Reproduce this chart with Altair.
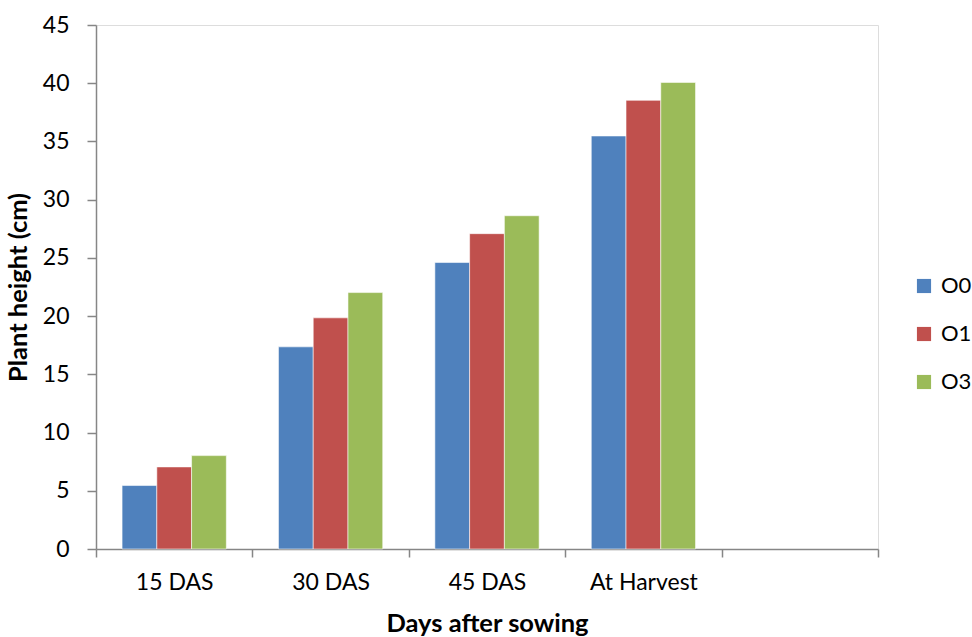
import altair as alt
import pandas as pd

categories = ["15 DAS", "30 DAS", "45 DAS", "At Harvest"]
x_domain = categories + [" "]
series = ["O0", "O1", "O3"]
o0 = [5.45, 17.36, 24.6, 35.47]
o1 = [7.05, 19.85, 27.08, 38.53]
o3 = [8.02, 22.02, 28.62, 40.07]
colors = ["#4F81BD", "#C0504D", "#9BBB59"]
y_ticks = [0, 5, 10, 15, 20, 25, 30, 35, 40, 45]

rows = []
for s, vals in zip(series, [o0, o1, o3]):
    for c, v in zip(categories, vals):
        rows.append({"Days": c, "Series": s, "Height": v})
df = pd.DataFrame(rows)

FONT = "Lato"
AXIS_COLOR = "#868686"

chart = alt.Chart(df).mark_bar(
    stroke="#ffffff", strokeWidth=0.8, strokeOpacity=0.7
).encode(
    x=alt.X(
        "Days:N",
        sort=x_domain,
        scale=alt.Scale(domain=x_domain, paddingInner=0, paddingOuter=0),
        axis=alt.Axis(
            title="Days after sowing",
            labelAngle=0,
            tickBand="extent",
            domainColor=AXIS_COLOR,
            domainWidth=1.5,
            tickColor=AXIS_COLOR,
            tickWidth=1.5,
            tickSize=8,
            labelPadding=14,
            labelFont=FONT,
            labelFontSize=23,
            labelColor="#000000",
            titleFont=FONT,
            titleFontSize=25.5,
            titleFontWeight="bold",
            titleColor="#000000",
            titlePadding=17,
        ),
    ),
    xOffset=alt.XOffset(
        "Series:N",
        sort=series,
        scale=alt.Scale(domain=series, paddingInner=0, paddingOuter=0.75),
    ),
    y=alt.Y(
        "Height:Q",
        scale=alt.Scale(domain=[0, 45], nice=False),
        axis=alt.Axis(
            title="Plant height (cm)",
            values=y_ticks,
            grid=False,
            domainColor=AXIS_COLOR,
            domainWidth=1.5,
            tickColor=AXIS_COLOR,
            tickWidth=1.5,
            tickSize=9,
            labelPadding=18,
            labelFont=FONT,
            labelFontSize=23,
            labelColor="#000000",
            titleFont=FONT,
            titleFontSize=25.5,
            titleFontWeight="bold",
            titleColor="#000000",
            titlePadding=11,
        ),
    ),
    color=alt.Color(
        "Series:N",
        sort=series,
        scale=alt.Scale(domain=series, range=colors),
        legend=alt.Legend(
            title=None,
            orient="none",
            legendX=817,
            legendY=250,
            symbolType="square",
            symbolSize=200,
            symbolStrokeWidth=0,
            labelFont=FONT,
            labelFontSize=22,
            labelColor="#000000",
            labelOffset=6,
            rowPadding=26,
            padding=0,
        ),
    ),
).properties(
    width=782,
    height=524,
    autosize=alt.AutoSizeParams(type="none"),
    padding={"left": 96, "top": 25, "right": 94, "bottom": 88},
).configure_view(stroke=None).configure(background="white")

chart.save("out.html", embed_options={"renderer": "svg", "actions": False})
